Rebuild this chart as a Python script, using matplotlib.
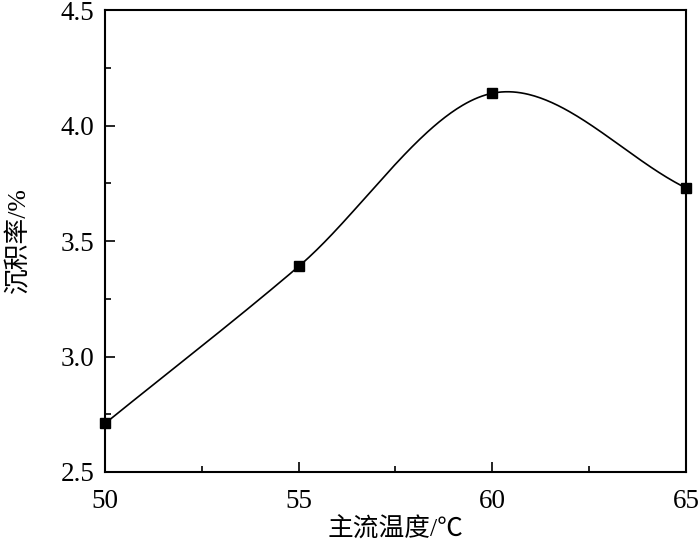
import numpy as np
import matplotlib
matplotlib.use('Agg')
import matplotlib.pyplot as plt
from matplotlib.ticker import MultipleLocator

plt.rcParams['font.family'] = ['Liberation Serif', 'Noto Sans CJK SC', 'DejaVu Sans']

# data
temperature = [50, 55, 60, 65]
deposition_rate = [2.71, 3.39, 4.14, 3.73]


def smooth_curve(x, y, xs):
  # cubic hermite (catmull-rom style) through the points
  x = np.asarray(x, float)
  y = np.asarray(y, float)
  n = len(x)
  sec = np.diff(y) / np.diff(x)
  m = np.empty(n)
  m[0] = sec[0]
  m[-1] = sec[-1]
  m[1:-1] = (y[2:] - y[:-2]) / (x[2:] - x[:-2])
  ys = np.empty_like(xs)
  for k, xv in enumerate(xs):
    i = int(np.clip(np.searchsorted(x, xv, side='right') - 1, 0, n - 2))
    h = x[i + 1] - x[i]
    t = (xv - x[i]) / h
    h00 = 2 * t ** 3 - 3 * t ** 2 + 1
    h10 = t ** 3 - 2 * t ** 2 + t
    h01 = -2 * t ** 3 + 3 * t ** 2
    h11 = t ** 3 - t ** 2
    ys[k] = h00 * y[i] + h10 * h * m[i] + h01 * y[i + 1] + h11 * h * m[i + 1]
  return ys


fig = plt.figure(figsize=(7, 5.44), dpi=100)
ax = fig.add_axes([0.15, 0.1324, 0.83, 0.849])

xs = np.linspace(temperature[0], temperature[-1], 300)
ax.plot(xs, smooth_curve(temperature, deposition_rate, xs), color='black', lw=1.2)
ax.plot(temperature, deposition_rate, 's', color='black', markersize=7.5, clip_on=False, zorder=3)

ax.set_xlim(50, 65)
ax.set_ylim(2.5, 4.5)
ax.xaxis.set_minor_locator(MultipleLocator(2.5))
ax.yaxis.set_minor_locator(MultipleLocator(0.25))
ax.set_xticks([50, 55, 60, 65])
ax.set_xticklabels(['50', '55', '60', '65'])
ax.set_yticks([2.5, 3.0, 3.5, 4.0, 4.5])
ax.set_yticklabels(['2.5', '3.0', '3.5', '4.0', '4.5'])

ax.tick_params(which='both', direction='in', top=False, right=False, labelsize=19.5, width=1.2)
ax.tick_params(axis='x', which='major', length=7, pad=12)
ax.tick_params(axis='y', which='major', length=7, pad=7.5)
ax.tick_params(which='minor', length=4)
for s in ax.spines.values():
  s.set_linewidth(1.5)

ax.set_xlabel('主流温度/℃', fontsize=18.5, labelpad=3)
ax.set_ylabel('沉积率/%', fontsize=18.5, labelpad=22)

fig.savefig('out.png', dpi=100)
